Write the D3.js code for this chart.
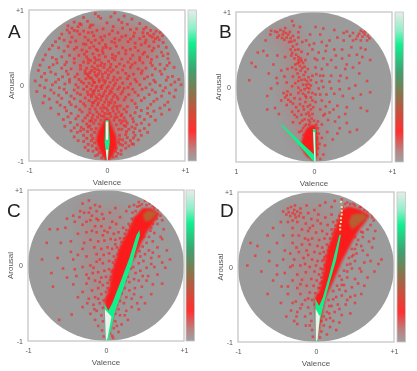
<!DOCTYPE html>
<html>
<head>
<meta charset="utf-8">
<script src="https://cdn.jsdelivr.net/npm/d3@7"></script>
<style>
body { margin: 0; background: white; }
svg { display: block; filter: blur(0.6px); font-family: "Liberation Sans", sans-serif; }
</style>
</head>
<body>
<script>
const w = 417
const h = 371

const tickValues = [-1, 0, 1]
const xLabels = ["-1", "0", "+1"]
const yLabels = ["-1", "0", "+1"]
const xLabelsB = ["1", "0", "+1"]
const yLabelsB = ["", "0", "+1"]
const xTitle = "Valence"
const yTitle = "Arousal"

// colour bar stops, bottom to top
const barStops = [0, 0.08, 0.2, 0.3, 0.47, 0.6, 0.78, 0.88, 1]
const barColors = ["#a0a0a0", "#bb8080", "#ff3030", "#d84838", "#807a50", "#40a070", "#10f090", "#90f0c8", "#e8ecea"]

// scattered histogram cells, [valence, arousal]
const pointsA = [
[-.15,.95],[.1,.96],[.22,.92],[-.3,.9],[-.08,.89],[.05,.91],[.32,.88],[-.42,.84],[-.25,.85],[.15,.87],[.42,.82],[-.5,.79],[-.37,.78],[-.18,.8],[0,.83],[.26,.81],[.5,.77],[.56,.73],[.63,.72],[.68,.7],[.6,.68],[.71,.66],[.65,.64],[.55,.66],[.46,.7],[.38,.75],[.3,.74],[.2,.76],[.08,.78],[-.05,.75],[-.13,.73],[-.22,.77],[-.3,.72],[-.42,.73],[-.48,.7],[-.58,.68],[-.35,.68],[-.45,.64],[-.28,.64],[-.4,.59],[-.55,.6],[-.66,.58],[-.17,.66],[-.08,.64],[.03,.68],[.14,.7],[.24,.66],[.34,.65],[.42,.62],[.5,.6],[.6,.58],[.72,.57],[.66,.52],[.54,.52],[.44,.54],[.36,.56],[.27,.58],[.16,.6],[.06,.58],[-.02,.54],[-.1,.56],[-.2,.57],[-.3,.55],[-.5,.52],[-.62,.5],[-.74,.48],[-.42,.48],[-.32,.47],[-.22,.5],[-.14,.48],[-.06,.46],[.04,.49],[.12,.52],[.2,.5],[.3,.48],[.4,.46],[.48,.44],[.58,.46],[.7,.44],[.78,.42],[.64,.38],[.52,.38],[.42,.37],[.33,.4],[.24,.42],[.15,.43],[.07,.41],[-.02,.38],[-.1,.4],[-.18,.42],[-.26,.38],[-.36,.4],[-.48,.4],[-.58,.38],[-.7,.37],[-.82,.34],[-.64,.3],[-.52,.31],[-.42,.3],[-.3,.31],[-.21,.33],[-.14,.34],[-.07,.3],[.02,.32],[.1,.34],[.19,.35],[.27,.31],[.36,.3],[.46,.3],[.56,.3],[.68,.28],[.8,.3],[.86,.24],[.74,.22],[.62,.22],[.5,.23],[.4,.22],[.3,.24],[.22,.26],[.12,.25],[.04,.24],[-.04,.24],[-.12,.26],[-.19,.25],[-.26,.23],[-.34,.22],[-.46,.22],[-.58,.23],[-.74,.24],[-.88,.2],[-.8,.16],[-.66,.15],[-.5,.15],[-.38,.15],[-.28,.16],[-.22,.17],[-.16,.18],[-.09,.19],[-.02,.17],[.05,.18],[.14,.17],[.24,.16],[.34,.15],[.44,.16],[.58,.14],[.7,.15],[.84,.12],[.92,.08],[.76,.07],[.6,.07],[.48,.09],[.36,.08],[.26,.09],[.17,.1],[.09,.11],[.01,.1],[-.06,.11],[-.13,.12],[-.2,.1],[-.27,.09],[-.36,.08],[-.48,.08],[-.62,.08],[-.78,.07],[-.92,.06],[-.86,0],[-.7,.01],[-.54,.02],[-.4,.01],[-.3,.03],[-.23,.03],[-.16,.04],[-.1,.05],[-.03,.03],[.04,.04],[.11,.03],[.2,.03],[.3,.02],[.42,.01],[.55,.02],[.68,0],[.82,.01],[.95,.01],[.88,-.06],[.72,-.07],[.58,-.06],[.45,-.05],[.33,-.05],[.22,-.04],[.14,-.05],[.07,-.04],[0,-.03],[-.07,-.04],[-.14,-.03],[-.21,-.05],[-.3,-.05],[-.42,-.06],[-.55,-.05],[-.72,-.06],[-.9,-.08],[-.8,-.14],[-.62,-.13],[-.46,-.14],[-.34,-.12],[-.24,-.12],[-.17,-.11],[-.1,-.12],[-.04,-.1],[.03,-.11],[.1,-.12],[.18,-.11],[.28,-.12],[.4,-.13],[.54,-.12],[.7,-.14],[.86,-.15],[.78,-.22],[.6,-.21],[.44,-.2],[.32,-.2],[.22,-.19],[.14,-.18],[.06,-.19],[-.01,-.18],[-.08,-.19],[-.15,-.2],[-.23,-.2],[-.34,-.21],[-.48,-.22],[-.64,-.22],[-.82,-.23],[-.72,-.3],[-.54,-.29],[-.4,-.28],[-.28,-.27],[-.19,-.27],[-.12,-.26],[-.05,-.26],[.02,-.26],[.09,-.27],[.17,-.27],[.26,-.28],[.38,-.29],[.52,-.3],[.68,-.3],[.8,-.32],[.7,-.38],[.52,-.37],[.36,-.36],[.25,-.35],[.15,-.35],[.08,-.34],[.01,-.33],[-.06,-.34],[-.13,-.35],[-.22,-.36],[-.32,-.35],[-.46,-.37],[-.62,-.38],[-.56,-.45],[-.4,-.44],[-.28,-.43],[-.19,-.43],[-.12,-.42],[-.04,-.41],[.05,-.41],[.13,-.42],[.22,-.43],[.33,-.44],[.48,-.45],[.62,-.46],[.54,-.52],[.38,-.52],[.26,-.5],[.18,-.5],[-.17,-.5],[-.26,-.51],[-.38,-.52],[-.54,-.54],[-.46,-.6],[-.3,-.58],[-.2,-.58],[.19,-.58],[.28,-.58],[.42,-.6],[.52,-.62],[.36,-.66],[.24,-.65],[-.2,-.66],[-.3,-.66],[-.42,-.68],[-.3,-.74],[-.2,-.73],[.2,-.72],[.3,-.73],[.4,-.72],[.28,-.8],[.2,-.79],[-.19,-.8],[-.28,-.82],[-.18,-.87],[.18,-.86],[.14,-.9],[-.12,-.92],[.08,-.95],[-.07,-.96],
[-.21,.8],[-.35,.82],[-.45,.76],[-.24,.7],[-.38,.72],[.52,.69],[.58,.64],[.47,.65],[.62,.62],[-.06,.6],[-.15,.6],[-.24,.6],[.1,.62],[-.05,.5],[-.17,.52],[-.26,.45],[-.1,.34],[-.16,.3],[-.24,.3],[-.03,.28],[.05,.28],[-.12,.21],[-.2,.2],[-.06,.15],[-.15,.14],[-.22,.1],[.02,.14],[.08,.07],[-.1,.08],[-.18,.07],[-.25,.15],[-.02,.06],[-.06,0],[-.13,-.01],[-.19,.0],[.02,-.01],[.09,0],[-.11,-.07],[-.18,-.08],[-.02,-.07],[.06,-.09],[-.07,-.15],[-.14,-.15],[.0,-.14],[.08,-.15],[-.2,-.15],[-.11,-.23],[-.03,-.22],[.05,-.23],[-.17,-.23],[-.08,-.3],[-.01,-.3],[.07,-.3],[-.15,-.31],[.13,-.31],[-.1,-.38],[-.03,-.37],[.04,-.37],[.11,-.38],[-.18,-.39],[.19,-.38],[-.08,-.46],[.09,-.46],[.16,-.46],[-.15,-.46],[-.22,-.47],[.24,-.47],[-.24,-.55],[.24,-.54],[.32,-.55],[-.34,-.6],[.34,-.62],[.16,-.66],[-.16,-.62],[.17,-.78],[.24,-.76],[-.24,-.78],[.12,-.83],[-.13,-.85],[.34,-.78]
]
// second pass over panel A, the cells that sit between the first ones
const pointsA2 = [
[-.11,.915],[.19,.835],[-.33,.805],[.47,.745],[-.51,.735],[.07,.725],[-.19,.705],[.35,.695],[-.03,.655],[.19,.645],[-.61,.625],[.3,.615],[.67,.605],[-.47,.575],[.1,.565],[-.27,.545],[.49,.565],[-.7,.53],[.76,.505],[-.01,.505],[.36,.505],[-.39,.505],[.6,.495],[-.12,.465],[.24,.465],[-.55,.455],[.46,.415],[.72,.395],[-.79,.405],[-.29,.415],[-.05,.425],[.11,.385],[-.42,.355],[.3,.355],[.57,.345],[-.65,.345],[-.16,.37],[.07,.365],[-.24,.345],[.42,.335],[.78,.355],[-.54,.275],[-.34,.265],[-.08,.265],[.16,.285],[.32,.275],[.58,.265],[-.86,.27],[-.69,.275],[.77,.265],[.08,.205],[-.28,.195],[.2,.205],[.45,.195],[-.52,.19],[.68,.19],[-.16,.225],[-.72,.18],[.01,.205],[-.41,.115],[-.11,.155],[.28,.125],[-.57,.115],[.52,.115],[.78,.11],[-.84,.115],[-.24,.125],[-.05,.07],[.13,.075],[.38,.05],[-.17,.04],[.62,.045],[-.33,.05],[-.48,.045],[-.66,.045],[.87,.045],[-.08,-.015],[.16,-.02],[-.26,-.015],[.27,-.025],[-.37,-.025],[.5,-.03],[.75,-.03],[-.61,-.03],[-.8,-.03],[.04,-.07],[-.16,-.065],[-.25,-.085],[.2,-.08],[.36,-.09],[-.38,-.1],[.62,-.09],[-.52,-.095],[-.68,-.1],[.8,-.1],[-.05,-.135],[.13,-.15],[-.2,-.125],[.24,-.155],[-.28,-.165],[.48,-.165],[-.42,-.175],[.64,-.18],[-.58,-.17],[-.74,-.18],[.02,-.22],[-.12,-.175],[.1,-.225],[-.19,-.225],[.36,-.24],[-.3,-.24],[.56,-.25],[-.46,-.255],[.74,-.26],[-.6,-.26],[-.04,-.295],[.13,-.275],[-.22,-.315],[.22,-.315],[-.35,-.32],[.44,-.33],[-.52,-.335],[.6,-.34],[.01,-.375],[-.07,-.405],[.18,-.4],[-.25,-.395],[.3,-.4],[-.37,-.405],[.42,-.41],[-.5,-.415],[.56,-.41],[.1,-.425],[-.2,-.47],[.2,-.47],[-.31,-.47],[.34,-.48],[-.47,-.49],[.44,-.5],[-.1,-.51],[.12,-.52],[-.22,-.535],[.22,-.53],[-.33,-.555],[.36,-.57],[-.14,-.57],[.15,-.58],[-.42,-.56],[.48,-.57],[-.25,-.61],[.25,-.61],[-.38,-.62],[.34,-.695],[-.18,-.7],[.16,-.71],[-.26,-.7],[.26,-.69],[-.37,-.73],[.44,-.66],[-.16,-.76],[.15,-.75],[.32,-.77],[-.24,-.86],[.24,-.83],[-.14,-.83],[.11,-.87],[-.1,-.89],[.18,-.91],[-.15,-.93],[.06,-.91],[-.04,-.93],[.12,-.94]
]
const pointsB = [
[-.55,.75],[-.5,.74],[-.47,.73],[-.43,.76],[-.39,.74],[-.36,.72],[-.33,.7],[-.4,.7],[-.35,.66],[-.3,.65],[-.27,.68],[-.25,.62],[-.32,.6],[-.38,.63],[-.47,.66],[-.56,.7],[-.2,.73],[-.18,.8],[-.2,.66],[-.15,.6],[-.22,.57],[-.27,.54],[-.3,.5],[-.2,.5],[-.16,.47],[-.65,.48],[-.72,.46],[-.6,.42],[-.8,.32],[-.47,.42],[-.37,.4],[-.29,.42],[-.23,.43],[-.2,.4],[-.17,.38],[-.2,.36],[-.16,.35],[-.19,.33],[-.14,.32],[-.11,.36],[-.24,.3],[-.18,.28],[-.12,.27],[-.28,.26],[-.34,.24],[-.42,.22],[-.75,.27],[-.17,.22],[-.11,.2],[-.08,.24],[-.21,.18],[-.13,.16],[-.48,.12],[-.83,.09],[-.38,.14],[-.27,.14],[-.07,.13],[-.12,.1],[-.2,.08],[-.09,.08],[-.04,.09],[-.35,.06],[-.14,.03],[-.1,.03],[-.07,.04],[-.04,.02],[-.28,.01],[-.2,-.01],[-.12,-.03],[-.09,-.01],[-.6,-.12],[-.39,-.08],[-.35,-.11],[-.37,-.14],[-.33,-.17],[-.3,-.1],[-.2,-.08],[-.14,-.09],[-.07,-.07],[-.02,-.08],[-.1,-.14],[-.04,-.14],[-.25,-.15],[-.18,-.16],[-.5,-.28],[-.6,-.3],[-.35,-.24],[-.27,-.22],[-.18,-.23],[-.11,-.2],[-.08,-.26],[-.05,-.24],[-.01,-.27],[-.04,-.3],[-.13,-.3],[-.2,-.32],[-.28,-.33],[-.45,-.36],[-.16,-.37],[-.1,-.36],[-.06,-.38],[-.02,-.36],[-.22,-.4],[-.12,-.43],[-.07,-.44],[-.03,-.42],[.0,-.45],[-.18,-.48],[-.27,-.47],[-.1,-.5],[-.06,-.5],[-.02,-.53],[.03,-.5],[-.14,-.55],[-.09,-.58],[-.04,-.6],[-.19,-.6],[-.13,-.64],[-.09,-.68],[-.06,-.64],[-.03,-.68],[-.12,-.72],[-.07,-.74],[-.03,-.76],[-.01,-.72],[-.08,-.8],[-.03,-.84],[.05,-.55],[.06,-.62],[.04,-.68],[.07,-.76],[.05,-.82],[.04,-.9],[.12,-.9],[.08,-.96],[.05,-.46],[.1,-.5],[.17,-.6],[.24,-.7],[.3,-.62],[.33,-.55],[.46,-.6],[.55,-.57],[.27,-.46],[.18,-.44],[.12,-.38],[.2,-.34],[.32,-.4],[.4,-.36],[.15,-.26],[.08,-.3],[.02,-.2],[.1,-.18],[.2,-.2],[.3,-.25],[.42,-.27],[.6,-.28],[.68,-.32],[.72,-.07],[.6,-.1],[.5,-.15],[.37,-.12],[.26,-.09],[.16,-.1],[.06,-.02],[.12,.0],[.22,-.02],[.33,-.03],[.45,-.02],[.53,.02],[.03,.06],[.1,.08],[.2,.07],[.32,.08],[.42,.12],[.34,.15],[.22,.15],[.12,.15],[.03,.17],[.02,.26],[.1,.24],[.17,.3],[.28,.26],[.4,.24],[.5,.26],[.58,.32],[.04,.36],[.12,.38],[.22,.36],[.36,.38],[.45,.42],[.55,.43],[.62,.4],[.72,.36],[.06,.46],[.15,.48],[.26,.5],[.36,.5],[.48,.53],[.6,.52],[.66,.5],[.0,.58],[.1,.6],[.2,.62],[.3,.66],[.38,.62],[.46,.68],[.54,.64],[.6,.62],[.62,.67],[.65,.7],[.58,.71],[.69,.68],[.71,.65],[.66,.74],[.72,.72],[.6,.75],[.5,.72],[.42,.74],[.38,.72],[.26,.76],[.12,.78],[.02,.8],[-.05,.7],[-.02,.5],[-.08,.44],[-.06,.56],[-.1,.62],[-.26,.82]
]
const pointsB2 = [
[-.45,.685],[-.41,.655],[-.37,.785],[-.31,.735],[-.29,.605],[-.24,.495],[-.28,.455],[-.25,.38],[-.21,.315],[-.15,.255],[-.23,.235],[-.19,.13],[-.16,.095],[-.24,.05],[-.06,-.02],[-.17,-.045],[-.11,-.115],[-.3,-.195],[-.34,-.06],[-.23,-.27],[-.14,-.26],[-.07,-.34],[-.25,-.37],[-.15,-.45],[-.05,-.465],[-.12,-.52],[-.07,-.56],[-.16,-.585],[-.02,-.6],[-.1,-.62],[-.05,-.7],[-.11,-.76],[-.06,-.78],[-.05,-.86],[.02,-.62],[.03,-.78],[.02,-.86],[.1,-.68],[.14,-.78],[-.42,-.18],[-.55,-.02],[-.47,.05],[-.58,.18],[-.52,.3],[-.62,.62],[-.28,.88],[.08,.7],[.16,.55],[.28,.42],[.08,.15],[.25,-.3],[.42,-.48],[.02,-.1],[-.02,.15],[.01,.38],[.08,-.1],[.14,-.36],[.58,.18],[.68,.08],[.5,.62],[.56,.68],[.63,.73],[.68,.62],[.42,.3],[-.02,-.18]
]
const pointsC = [
[-.22,.86],[-.14,.8],[-.3,.82],[-.2,.76],[-.33,.72],[-.28,.7],[-.22,.7],[-.12,.72],[-.05,.68],[-.18,.66],[-.34,.64],[-.42,.66],[-.5,.62],[-.2,.6],[-.1,.6],[-.03,.62],[.05,.7],[.12,.76],[.18,.64],[.26,.72],[-.72,.48],[-.62,.48],[-.52,.5],[-.3,.54],[-.14,.52],[-.06,.52],[.05,.5],[.13,.55],[.22,.5],[.29,.55],[-.36,.42],[-.25,.44],[-.12,.44],[-.04,.4],[.02,.44],[.1,.42],[.16,.44],[.24,.42],[.18,.36],[.12,.34],[.06,.35],[-.02,.33],[-.1,.32],[-.2,.34],[-.45,.32],[-.58,.3],[-.76,.3],[.28,.33],[.25,.28],[.2,.25],[.14,.24],[.08,.22],[.02,.24],[-.06,.22],[-.15,.24],[-.3,.22],[-.45,.18],[-.82,.08],[-.62,.1],[-.42,.08],[-.25,.12],[-.12,.15],[-.03,.14],[.04,.16],[.1,.12],[.15,.15],[.19,.18],[.18,.06],[.14,.03],[.09,.04],[.04,.06],[-.04,.03],[-.12,.05],[-.2,.0],[-.3,-.02],[-.4,-.05],[-.55,-.04],[-.7,-.1],[.13,-.04],[.09,-.06],[.04,-.05],[-.02,-.07],[-.1,-.09],[-.17,-.1],[-.25,-.12],[-.38,-.14],[.1,-.14],[.06,-.15],[0,-.15],[-.06,-.16],[-.14,-.2],[-.25,-.24],[-.42,-.25],[-.68,-.28],[.07,-.24],[.02,-.23],[-.04,-.26],[-.1,-.3],[-.18,-.33],[-.3,-.35],[.04,-.33],[0,-.35],[-.06,-.38],[-.14,-.42],[-.22,-.44],[-.03,-.46],[-.08,-.5],[-.16,-.52],[-.3,-.55],[-.04,-.56],[-.12,-.6],[-.2,-.64],[-.06,-.66],[-.14,-.72],[-.04,-.74],[-.1,-.8],[-.6,-.72],[-.44,-.65],[-.05,-.86],[-.03,-.94],[.05,-.9],[.09,-.96],[.1,-.83],[.16,-.88],[.12,-.74],[.2,-.78],[.28,-.72],[.18,-.66],[.26,-.6],[.16,-.58],[.23,-.5],[.33,-.55],[.42,-.58],[.5,-.5],[.26,-.42],[.33,-.44],[.45,-.42],[.58,-.38],[.3,-.33],[.37,-.3],[.46,-.28],[.6,-.25],[.72,-.24],[.3,-.22],[.36,-.18],[.42,-.2],[.54,-.14],[.66,-.12],[.38,-.1],[.44,-.07],[.52,-.03],[.62,-.02],[.76,-.03],[.35,-.02],[.42,.03],[.48,.06],[.58,.1],[.68,.12],[.82,.08],[.44,.12],[.5,.15],[.55,.2],[.66,.24],[.47,.25],[.52,.3],[.6,.32],[.72,.35],[.55,.38],[.62,.43],[.74,.48],[.58,.5],[.66,.55],[.72,.6],[.7,.66],[.33,.62],[.34,.7],[.36,.8],[.3,.78],[.42,.84],[.5,.86],[.56,.82],[.62,.76],[.75,.7],[.73,.72],[.4,.78],[.24,.04],[.26,-.08],[.2,.1],[.12,.28],[.3,.2],[.33,.28],[.35,.4],[.37,.48],[.4,.55],[.04,-.44],[.1,-.38],[.14,-.3],[.17,-.22]
]
const pointsC2 = [
[.025,-.42],[.055,-.305],[.02,-.3],[.085,-.195],[.05,-.19],[.1,-.09],[.07,-.08],[.115,.01],[.16,.09],[.125,.07],[.17,.14],[.21,.22],[.17,.2],[.23,.29],[.2,.31],[.27,.38],[.23,.36],[.3,.46],[.26,.47],[.34,.55],[.31,.52],[.37,.63],[.35,.6],[.43,.79],[.46,.81],[.52,.8],[.6,.79],[.67,.74],[.38,.72],[.45,.44],[.49,.38],[.5,.47],[.57,.46],[.6,.55],[.65,.62],[.4,.34],[.46,.36],[.38,.26],[.43,.19],[.37,.12],[.33,.13],[.27,.05],[.32,-.04],[.28,-.15],[.25,-.2],[.24,-.3],[.2,-.37],[.18,-.47],[.14,-.52],[.12,-.64],[.08,-.72],[-.12,.62],[-.25,.58],[-.4,.58],[-.08,.78],[-.18,.46],[-.02,.46],[.08,.58],[-.28,.3],[-.36,.14],[-.08,.08],[-.16,-.03],[-.22,-.17],[-.08,-.22],[-.1,-.44],[-.15,-.58],[-.24,-.5],[-.36,-.42],[-.5,-.16],[.08,-.93],[.14,-.8],[.24,-.66],[.4,-.5],[.36,-.38],[.52,-.2],[.47,-.14],[.58,.02],[.72,.04],[.6,.17],[.7,.38],[.78,.2]
]
const pointsD = [
[-.36,.78],[-.32,.8],[-.28,.76],[-.35,.73],[-.3,.72],[-.24,.74],[-.38,.7],[-.33,.68],[-.27,.7],[-.22,.68],[-.27,.82],[-.2,.78],[-.12,.82],[-.1,.72],[-.02,.76],[.05,.82],[.12,.86],[.2,.8],[.24,.88],[-.16,.66],[-.06,.64],[.03,.7],[.12,.66],[.2,.7],[-.45,.6],[-.36,.6],[-.24,.6],[-.13,.58],[-.04,.55],[.06,.58],[.15,.56],[.22,.6],[-.55,.52],[-.3,.52],[-.18,.5],[-.1,.48],[0,.46],[.08,.48],[.14,.44],[.2,.5],[.23,.46],[-.62,.42],[-.42,.42],[-.22,.42],[-.14,.38],[-.05,.38],[.04,.36],[.11,.38],[.18,.38],[-.84,.32],[-.75,.28],[-.5,.32],[-.3,.32],[-.18,.3],[-.08,.3],[.02,.28],[.08,.26],[.14,.3],[.17,.27],[-.78,.15],[-.6,.2],[-.4,.22],[-.22,.2],[-.12,.22],[-.02,.2],[.05,.18],[.1,.2],[.13,.15],[-.6,.08],[-.42,.1],[-.28,.1],[-.16,.12],[-.05,.1],[.02,.08],[.08,.08],[.11,.03],[-.88,.02],[-.5,.02],[-.33,.0],[-.2,.02],[-.08,.0],[0,.02],[.06,-.02],[.09,-.08],[-.7,-.06],[-.4,-.08],[-.24,-.1],[-.13,-.07],[-.02,-.06],[.04,-.1],[.07,-.14],[-.55,-.18],[-.3,-.18],[-.18,-.17],[-.06,-.16],[.01,-.18],[.05,-.22],[-.44,-.26],[-.24,-.28],[-.12,-.25],[-.03,-.25],[.03,-.28],[-.62,-.36],[-.36,-.36],[-.2,-.36],[-.08,-.34],[-.01,-.35],[.03,-.38],[-.45,-.48],[-.26,-.46],[-.14,-.44],[-.05,-.44],[-.02,-.5],[-.32,-.58],[-.2,-.55],[-.1,-.54],[-.07,-.62],[-.38,-.66],[-.25,-.66],[-.14,-.66],[-.06,-.72],[-.24,-.76],[-.13,-.78],[-.05,-.84],[-.28,-.72],[-.04,-.93],[.05,-.94],[.07,-.86],[.14,-.9],[.1,-.78],[.18,-.8],[.26,-.84],[.13,-.7],[.22,-.72],[.3,-.74],[.17,-.62],[.24,-.6],[.33,-.64],[.44,-.62],[.2,-.52],[.28,-.5],[.38,-.5],[.5,-.48],[.26,-.4],[.33,-.38],[.44,-.4],[.58,-.36],[.3,-.3],[.36,-.24],[.46,-.27],[.62,-.25],[.33,-.17],[.4,-.14],[.5,-.16],[.66,-.14],[.4,-.06],[.46,-.02],[.58,-.06],[.75,-.06],[.44,.04],[.5,.08],[.62,.06],[.8,.04],[.46,.14],[.52,.18],[.66,.16],[.84,.1],[.5,.24],[.58,.28],[.72,.26],[.54,.36],[.6,.4],[.74,.38],[.6,.46],[.66,.5],[.76,.48],[.7,.56],[.74,.62],[.72,.7],[.56,.8],[.48,.84],[.4,.86],[.33,.9],[.62,.76],[.28,.56],[.24,.5],[.22,.38],[.16,.22],[.1,.1],[.08,-.2],[.12,-.34],[.16,-.44]
]
const pointsD2 = [
[.025,-.4],[.05,-.28],[.075,-.2],[.1,-.13],[.085,-.03],[.12,.0],[.14,.08],[.11,.13],[.16,.15],[.17,.22],[.2,.32],[.21,.44],[.24,.4],[.25,.55],[.27,.62],[.3,.68],[.34,.8],[.37,.84],[.44,.84],[.5,.82],[.58,.8],[.66,.74],[.72,.66],[.58,.47],[.5,.4],[.52,.3],[.46,.24],[.48,.16],[.42,.12],[.4,.03],[.36,-.05],[.3,-.12],[.33,-.24],[.27,-.25],[.22,-.32],[.22,-.43],[.17,-.52],[.14,-.6],[.1,-.66],[-.3,.62],[-.42,.74],[-.26,.66],[-.2,.72],[-.08,.52],[.02,.62],[-.3,.42],[-.1,.36],[-.25,.26],[-.33,.18],[-.1,.16],[-.3,.02],[-.14,.04],[-.5,-.1],[-.2,-.23],[-.36,-.26],[-.1,-.42],[-.18,-.5],[-.3,-.48],[-.24,-.6],[-.08,-.78],[.07,-.72],[.18,-.68],[.3,-.56],[.4,-.44],[.5,-.38],[.38,-.32],[.54,-.22],[.56,-.02],[.7,.08],[.6,.22],[.68,.34]
]

// heavy regions that merge into solid red, then the ridge cells
const denseA = [[-.02,-1],[-.1,-.85],[-.14,-.74],[-.12,-.62],[-.06,-.5],[-.02,-.42],[.03,-.44],[.07,-.55],[.12,-.68],[.13,-.8],[.08,-.92],[.03,-1]]
const denseB = [[-.1,-.92],[-.18,-.78],[-.12,-.6],[-.06,-.52],[.03,-.5],[.05,-.7],[.04,-.92],[.01,-1]]
const denseC = [[-.02,-.46],[.04,-.33],[.08,-.08],[.13,.08],[.17,.23],[.28,.45],[.37,.65],[.47,.76],[.58,.76],[.69,.69],[.62,.58],[.53,.45],[.44,.27],[.38,.13],[.31,.01],[.23,-.26],[.1,-.65],[.03,-.95]]
const denseD = [[-.02,-.42],[.05,-.3],[.09,-.11],[.12,.08],[.15,.24],[.26,.55],[.33,.77],[.42,.81],[.56,.77],[.69,.69],[.62,.58],[.56,.51],[.46,.33],[.38,.17],[.33,.07],[.24,-.15],[.12,-.42],[.05,-.8],[.02,-.95]]
const olivePatchC = [[.47,.68],[.55,.74],[.66,.7],[.58,.6],[.5,.58]]
const olivePatchD = [[.42,.6],[.46,.7],[.6,.72],[.66,.66],[.54,.56],[.46,.5]]

// wide faint clouds under the cells
const hazeA = [[-.55,.78],[.1,.82],[.72,.72],[.6,.4],[.3,-.3],[.25,-.8],[-.25,-.8],[-.35,-.2],[-.45,.3]]
const hazeB = [[-.6,.78],[-.25,.8],[-.08,.3],[.1,-.4],[.1,-.95],[-.25,-.7],[-.4,-.1],[-.35,.4]]
const hazeC = [[-.35,.8],[.25,.75],[.3,.2],[.15,-.5],[-.2,-.5],[-.3,.1]]
const hazeD = [[-.4,.82],[.2,.8],[.25,.3],[.08,-.5],[-.25,-.4],[-.3,.3]]

const ridgesA = [[[0,-1],[-.03,-.75],[-.02,-.46],[.02,-.46],[.035,-.75],[.01,-1]]]
const ridgesB = [[[0,-1],[-.43,-.5],[-.41,-.5],[.0,-.9],[-.015,-.56],[.02,-.56],[.025,-1]]]
const ridgesC = [[[0,-1],[-.02,-.5],[.03,-.6],[.08,-.5],[.2,-.18],[.3,.1],[.39,.4],[.43,.47],[.435,.4],[.34,.05],[.24,-.25],[.12,-.6],[.03,-1]]]
const ridgesD = [[[0,-1],[-.01,-.42],[.04,-.52],[.09,-.4],[.15,-.18],[.22,.1],[.3,.43],[.32,.43],[.26,.1],[.19,-.15],[.11,-.45],[.05,-.72],[.015,-1]]]
const coreA = [[[0,-1],[-.015,-.85],[.015,-.85],[.006,-1]],[[-.012,-.72],[-.015,-.48],[.015,-.48],[.014,-.72]]]
const coreB = [[[.005,-1],[-.01,-.6],[.01,-.6],[.02,-1]]]
const coreC = [[[0,-1],[-.015,-.58],[.07,-.68],[.02,-.96]]]
const coreD = [[[0,-1],[-.005,-.56],[.05,-.66],[.02,-.96]]]
const dotsD = [[.32,.87],[.33,.8],[.33,.75],[.33,.7],[.32,.65],[.32,.6],[.31,.55],[.31,.5]]

const panels = [
  {letter: "A", x0: 29, x1: 185, y0: 10, y1: 161, bar: 188, pts: pointsA.concat(pointsA2), size: 2.8, haze: hazeA, hazeOp: 0.3, dense: denseA, ridges: ridgesA, core: coreA, patch: null, dots: null, lx: 8, ly: 38, xl: xLabels, yl: yLabels},
  {letter: "B", x0: 236, x1: 392, y0: 12, y1: 162, bar: 395, pts: pointsB.concat(pointsB2), size: 2.6, haze: hazeB, hazeOp: 0.16, dense: denseB, ridges: ridgesB, core: coreB, patch: null, dots: null, lx: 219, ly: 38, xl: xLabelsB, yl: yLabelsB},
  {letter: "C", x0: 28, x1: 184, y0: 190, y1: 341, bar: 186, pts: pointsC.concat(pointsC2), size: 2.6, haze: hazeC, hazeOp: 0.12, dense: denseC, ridges: ridgesC, core: coreC, patch: olivePatchC, dots: null, lx: 7, ly: 217, xl: xLabels, yl: yLabels},
  {letter: "D", x0: 238, x1: 394, y0: 192, y1: 342, bar: 397, pts: pointsD.concat(pointsD2), size: 2.6, haze: hazeD, hazeOp: 0.12, dense: denseD, ridges: ridgesD, core: coreD, patch: olivePatchD, dots: dotsD, lx: 220, ly: 217, xl: xLabels, yl: yLabels}
]

const svg = d3.select("body")
              .append("svg")
              .attr("width", w)
              .attr("height", h)

const defs = svg.append("defs")
const barGrad = defs.append("linearGradient")
                    .attr("id", "bar-grad")
                    .attr("x1", 0).attr("x2", 0)
                    .attr("y1", 1).attr("y2", 0)
barGrad.selectAll("stop")
       .data(barStops)
       .enter()
       .append("stop")
       .attr("offset", (d) => d)
       .attr("stop-color", (d, i) => barColors[i])

defs.append("filter").attr("id", "soft")
    .append("feGaussianBlur").attr("stdDeviation", 1.1)
defs.append("filter").attr("id", "softer")
    .attr("x", "-30%").attr("y", "-30%").attr("width", "160%").attr("height", "160%")
    .append("feGaussianBlur").attr("stdDeviation", 7)

const drawPanel = (p, idx) => {
  const xScale = d3.scaleLinear().domain([-1, 1]).range([p.x0, p.x1])
  const yScale = d3.scaleLinear().domain([-1, 1]).range([p.y1, p.y0])
  const line = d3.line().x((d) => xScale(d[0])).y((d) => yScale(d[1])).curve(d3.curveLinearClosed)
  const g = svg.append("g").attr("class", "panel")

  defs.append("clipPath").attr("id", "disc" + idx)
      .append("ellipse")
      .attr("cx", xScale(0))
      .attr("cy", yScale(0))
      .attr("rx", xScale(1) - xScale(0))
      .attr("ry", yScale(-1) - yScale(0))

  // grey disc
  g.append("ellipse")
   .attr("cx", xScale(0))
   .attr("cy", yScale(0))
   .attr("rx", xScale(1) - xScale(0))
   .attr("ry", yScale(-1) - yScale(0))
   .attr("fill", "#9b9b9b")

  const inner = g.append("g").attr("clip-path", "url(#disc" + idx + ")")

  inner.append("path")
       .attr("d", line(p.haze))
       .attr("fill", "#f03030")
       .attr("opacity", p.hazeOp)
       .attr("filter", "url(#softer)")

  inner.append("path")
       .attr("d", line(p.dense))
       .attr("fill", "#ff1414")
       .attr("opacity", 0.95)
       .attr("filter", "url(#soft)")

  inner.selectAll("rect.cell")
       .data(p.pts)
       .enter()
       .append("rect")
       .attr("class", "cell")
       .attr("x", (d) => xScale(d[0]) - p.size / 2)
       .attr("y", (d) => yScale(d[1]) - p.size / 2)
       .attr("width", p.size)
       .attr("height", p.size)
       .attr("fill", "#fa1e1e")
       .attr("opacity", 0.62)

  if (p.patch) {
    inner.append("path")
         .attr("d", line(p.patch))
         .attr("fill", "#8c8a40")
         .attr("opacity", 0.6)
         .attr("filter", "url(#soft)")
  }

  inner.selectAll("path.ridge")
       .data(p.ridges)
       .enter()
       .append("path")
       .attr("class", "ridge")
       .attr("d", line)
       .attr("fill", "#10f08c")

  inner.selectAll("path.core")
       .data(p.core)
       .enter()
       .append("path")
       .attr("class", "core")
       .attr("d", line)
       .attr("fill", "#eef0ee")

  if (p.dots) {
    inner.selectAll("rect.dot")
         .data(p.dots)
         .enter()
         .append("rect")
         .attr("class", "dot")
         .attr("x", (d) => xScale(d[0]) - 1)
         .attr("y", (d) => yScale(d[1]) - 1)
         .attr("width", 2)
         .attr("height", 2)
         .attr("fill", "#e8e8a0")
  }

  // frame
  g.append("rect")
   .attr("x", p.x0)
   .attr("y", p.y0)
   .attr("width", p.x1 - p.x0)
   .attr("height", p.y1 - p.y0)
   .attr("fill", "none")
   .attr("stroke", "#c6c6c6")
   .attr("stroke-width", 1.3)

  // colour bar
  g.append("rect")
   .attr("x", p.bar)
   .attr("y", p.y0)
   .attr("width", 8.5)
   .attr("height", p.y1 - p.y0)
   .attr("fill", "url(#bar-grad)")
   .attr("stroke", "#c6c6c6")
   .attr("stroke-width", 0.8)

  const xAxis = d3.axisBottom(xScale)
                  .tickValues(tickValues)
                  .tickFormat((d, i) => p.xl[i])
                  .tickSize(0)
                  .tickPadding(7)
  const yAxis = d3.axisLeft(yScale)
                  .tickValues(tickValues)
                  .tickFormat((d, i) => p.yl[i])
                  .tickSize(0)
                  .tickPadding(5)

  const gx = g.append("g").attr("transform", "translate(0, " + p.y1 + ")").call(xAxis)
  const gy = g.append("g").attr("transform", "translate(" + p.x0 + ", 0)").call(yAxis)
  gx.select(".domain").remove()
  gy.select(".domain").remove()
  g.selectAll(".tick text")
   .attr("font-family", "Liberation Sans")
   .attr("font-size", 7)
   .attr("fill", "#555")

  g.append("text")
   .attr("x", xScale(0))
   .attr("y", p.y1 + 24)
   .attr("text-anchor", "middle")
   .attr("font-size", 8)
   .attr("fill", "#555")
   .text(xTitle)

  g.append("text")
   .attr("transform", "translate(" + (p.x0 - 15) + ", " + yScale(0) + ") rotate(-90)")
   .attr("text-anchor", "middle")
   .attr("font-size", 8)
   .attr("fill", "#555")
   .text(yTitle)

  g.append("text")
   .attr("x", p.lx)
   .attr("y", p.ly)
   .attr("font-size", 19)
   .attr("fill", "#222")
   .text(p.letter)
}

panels.forEach(drawPanel)
</script>
</body>
</html>
